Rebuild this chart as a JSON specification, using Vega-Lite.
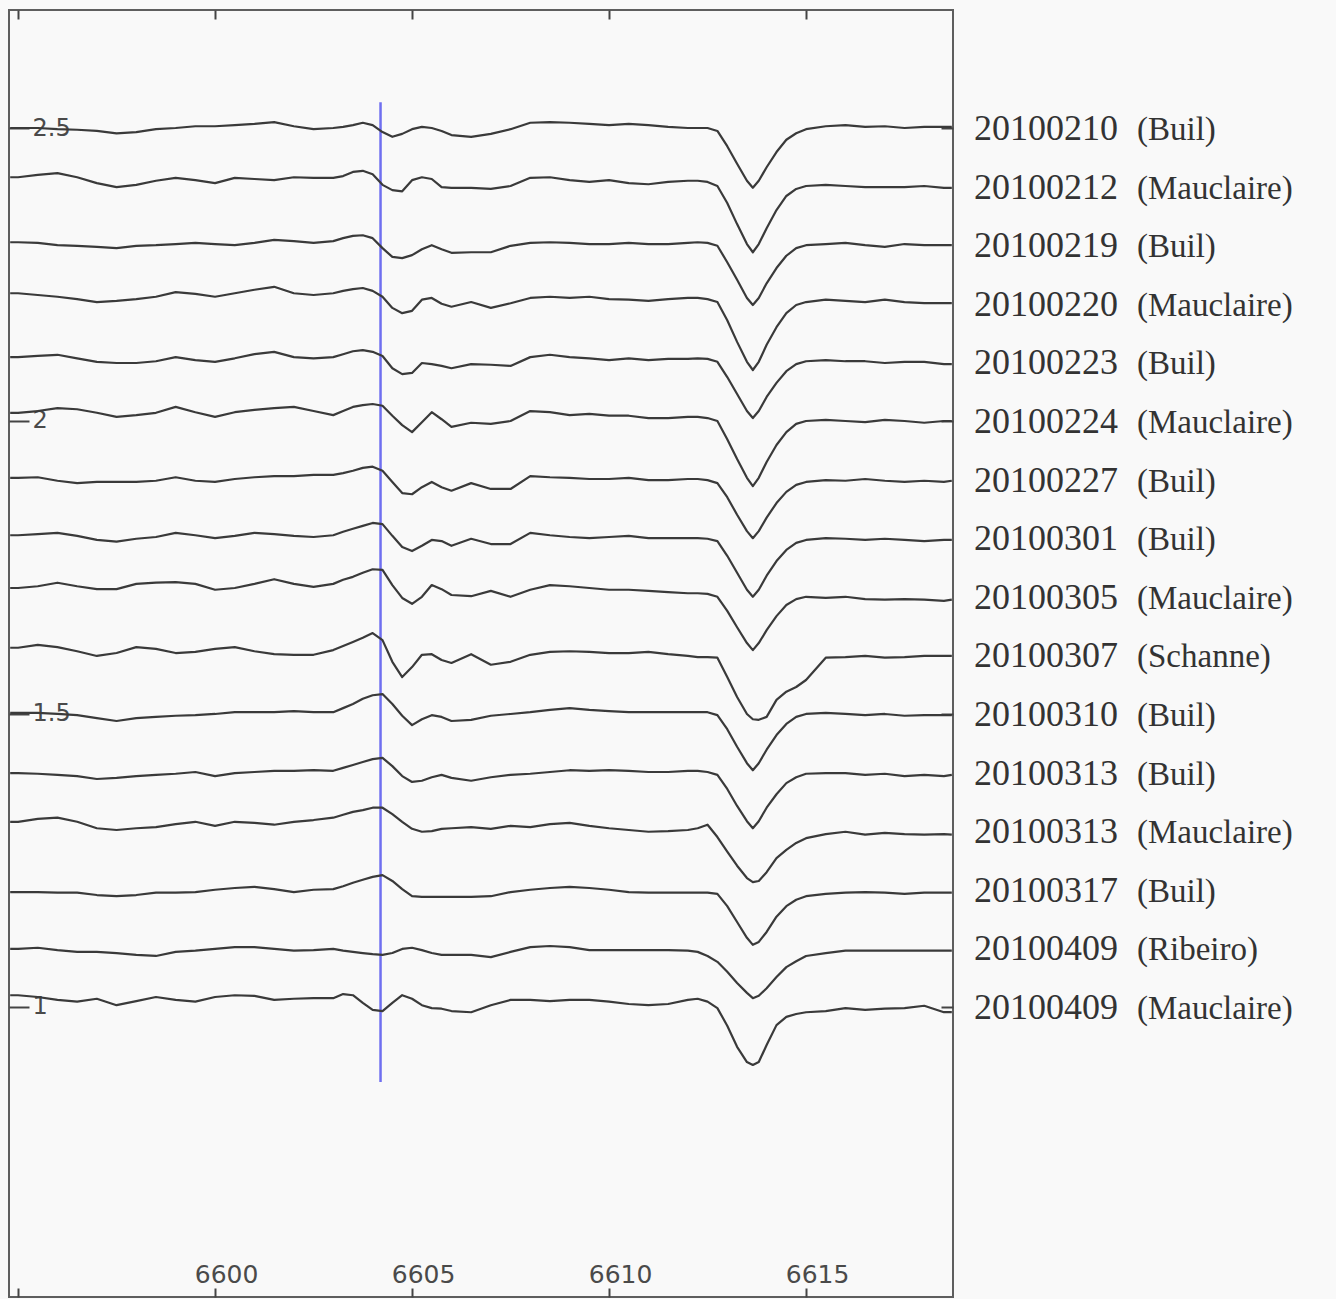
{
  "$schema": "https://vega.github.io/schema/vega-lite/v6.json",
  "width": 944,
  "height": 1287,
  "autosize": {"type": "none"},
  "padding": {"left": 9, "top": 10, "right": 383, "bottom": 2},
  "background": "#f9f9f9",
  "config": {
    "view": {"stroke": "#5e5e5e", "strokeWidth": 2, "fill": "#f9f9f9"},
    "axis": {"grid": false, "domain": false, "title": null, "tickColor": "#444444", "tickWidth": 2, "labelColor": "#4a4a4a", "labelFont": "DejaVu Sans"}
  },
  "datasets": {
    "spectra": [
      {"w":6594.8,"a":2.500,"b":2.416,"c":2.305,"d":2.218,"e":2.109,"f":2.014,"g":1.903,"h":1.805,"i":1.715,"j":1.613,"k":1.502,"l":1.399,"m":1.316,"n":1.196,"o":1.099,"p":1.020},
      {"w":6595.0,"a":2.500,"b":2.416,"c":2.305,"d":2.218,"e":2.109,"f":2.014,"g":1.903,"h":1.805,"i":1.715,"j":1.613,"k":1.502,"l":1.399,"m":1.316,"n":1.196,"o":1.099,"p":1.020},
      {"w":6595.5,"a":2.500,"b":2.420,"c":2.304,"d":2.215,"e":2.111,"f":2.017,"g":1.904,"h":1.807,"i":1.718,"j":1.618,"k":1.502,"l":1.398,"m":1.321,"n":1.196,"o":1.101,"p":1.017},
      {"w":6596.0,"a":2.498,"b":2.423,"c":2.300,"d":2.212,"e":2.113,"f":2.022,"g":1.898,"h":1.809,"i":1.724,"j":1.614,"k":1.500,"l":1.396,"m":1.323,"n":1.195,"o":1.097,"p":1.012},
      {"w":6596.5,"a":2.497,"b":2.416,"c":2.299,"d":2.208,"e":2.107,"f":2.020,"g":1.894,"h":1.804,"i":1.718,"j":1.607,"k":1.498,"l":1.394,"m":1.316,"n":1.195,"o":1.094,"p":1.009},
      {"w":6597.0,"a":2.495,"b":2.406,"c":2.297,"d":2.203,"e":2.101,"f":2.014,"g":1.896,"h":1.797,"i":1.713,"j":1.599,"k":1.493,"l":1.389,"m":1.305,"n":1.191,"o":1.094,"p":1.014},
      {"w":6597.5,"a":2.491,"b":2.399,"c":2.295,"d":2.205,"e":2.099,"f":2.007,"g":1.896,"h":1.794,"i":1.713,"j":1.604,"k":1.488,"l":1.391,"m":1.302,"n":1.189,"o":1.092,"p":1.003},
      {"w":6598.0,"a":2.493,"b":2.403,"c":2.299,"d":2.208,"e":2.099,"f":2.010,"g":1.896,"h":1.799,"i":1.722,"j":1.614,"k":1.493,"l":1.394,"m":1.305,"n":1.191,"o":1.089,"p":1.010},
      {"w":6598.5,"a":2.498,"b":2.410,"c":2.300,"d":2.212,"e":2.102,"f":2.014,"g":1.898,"h":1.802,"i":1.724,"j":1.611,"k":1.495,"l":1.396,"m":1.307,"n":1.195,"o":1.087,"p":1.017},
      {"w":6599.0,"a":2.500,"b":2.415,"c":2.302,"d":2.220,"e":2.109,"f":2.024,"g":1.904,"h":1.809,"i":1.725,"j":1.604,"k":1.497,"l":1.398,"m":1.312,"n":1.195,"o":1.094,"p":1.012},
      {"w":6599.5,"a":2.503,"b":2.411,"c":2.304,"d":2.217,"e":2.104,"f":2.015,"g":1.898,"h":1.805,"i":1.722,"j":1.606,"k":1.498,"l":1.401,"m":1.316,"n":1.196,"o":1.096,"p":1.009},
      {"w":6600.0,"a":2.503,"b":2.406,"c":2.302,"d":2.212,"e":2.101,"f":2.007,"g":1.896,"h":1.800,"i":1.712,"j":1.611,"k":1.500,"l":1.394,"m":1.309,"n":1.200,"o":1.099,"p":1.017},
      {"w":6600.5,"a":2.505,"b":2.415,"c":2.300,"d":2.218,"e":2.107,"f":2.015,"g":1.901,"h":1.804,"i":1.715,"j":1.614,"k":1.503,"l":1.399,"m":1.316,"n":1.203,"o":1.102,"p":1.020},
      {"w":6601.0,"a":2.507,"b":2.413,"c":2.304,"d":2.224,"e":2.114,"f":2.019,"g":1.904,"h":1.809,"i":1.722,"j":1.607,"k":1.503,"l":1.401,"m":1.314,"n":1.205,"o":1.102,"p":1.019},
      {"w":6601.5,"a":2.510,"b":2.411,"c":2.309,"d":2.229,"e":2.118,"f":2.022,"g":1.906,"h":1.807,"i":1.730,"j":1.602,"k":1.503,"l":1.403,"m":1.311,"n":1.201,"o":1.099,"p":1.012},
      {"w":6602.0,"a":2.503,"b":2.416,"c":2.307,"d":2.218,"e":2.109,"f":2.024,"g":1.906,"h":1.804,"i":1.722,"j":1.601,"k":1.505,"l":1.403,"m":1.316,"n":1.196,"o":1.096,"p":1.014},
      {"w":6602.5,"a":2.498,"b":2.415,"c":2.304,"d":2.215,"e":2.107,"f":2.017,"g":1.908,"h":1.802,"i":1.717,"j":1.601,"k":1.503,"l":1.404,"m":1.319,"n":1.200,"o":1.097,"p":1.015},
      {"w":6603.0,"a":2.500,"b":2.415,"c":2.307,"d":2.218,"e":2.109,"f":2.010,"g":1.908,"h":1.805,"i":1.722,"j":1.609,"k":1.503,"l":1.403,"m":1.323,"n":1.201,"o":1.099,"p":1.015},
      {"w":6603.25,"a":2.502,"b":2.418,"c":2.312,"d":2.222,"e":2.114,"f":2.017,"g":1.911,"h":1.811,"i":1.729,"j":1.616,"k":1.510,"l":1.408,"m":1.328,"n":1.206,"o":1.096,"p":1.022},
      {"w":6603.5,"a":2.505,"b":2.425,"c":2.316,"d":2.225,"e":2.119,"f":2.024,"g":1.915,"h":1.816,"i":1.734,"j":1.623,"k":1.517,"l":1.413,"m":1.333,"n":1.212,"o":1.094,"p":1.020},
      {"w":6603.75,"a":2.509,"b":2.427,"c":2.317,"d":2.227,"e":2.121,"f":2.027,"g":1.920,"h":1.821,"i":1.741,"j":1.630,"k":1.526,"l":1.418,"m":1.336,"n":1.217,"o":1.092,"p":1.007},
      {"w":6604.0,"a":2.505,"b":2.421,"c":2.312,"d":2.222,"e":2.118,"f":2.029,"g":1.922,"h":1.826,"i":1.747,"j":1.638,"k":1.532,"l":1.423,"m":1.340,"n":1.222,"o":1.090,"p":0.995},
      {"w":6604.25,"a":2.493,"b":2.403,"c":2.295,"d":2.212,"e":2.111,"f":2.026,"g":1.915,"h":1.824,"i":1.746,"j":1.626,"k":1.534,"l":1.425,"m":1.340,"n":1.225,"o":1.089,"p":0.993},
      {"w":6604.5,"a":2.485,"b":2.394,"c":2.280,"d":2.193,"e":2.090,"f":2.009,"g":1.896,"h":1.804,"i":1.720,"j":1.589,"k":1.517,"l":1.411,"m":1.329,"n":1.215,"o":1.092,"p":1.007},
      {"w":6604.75,"a":2.490,"b":2.392,"c":2.278,"d":2.184,"e":2.080,"f":1.993,"g":1.877,"h":1.785,"i":1.698,"j":1.563,"k":1.497,"l":1.394,"m":1.316,"n":1.201,"o":1.099,"p":1.020},
      {"w":6605.0,"a":2.498,"b":2.411,"c":2.283,"d":2.188,"e":2.082,"f":1.981,"g":1.875,"h":1.778,"i":1.688,"j":1.580,"k":1.481,"l":1.384,"m":1.304,"n":1.189,"o":1.101,"p":1.014},
      {"w":6605.25,"a":2.502,"b":2.416,"c":2.293,"d":2.207,"e":2.099,"f":1.998,"g":1.887,"h":1.787,"i":1.700,"j":1.601,"k":1.491,"l":1.386,"m":1.299,"n":1.188,"o":1.097,"p":1.003},
      {"w":6605.5,"a":2.500,"b":2.413,"c":2.300,"d":2.210,"e":2.097,"f":2.015,"g":1.896,"h":1.797,"i":1.720,"j":1.602,"k":1.498,"l":1.392,"m":1.300,"n":1.188,"o":1.092,"p":0.998},
      {"w":6605.75,"a":2.495,"b":2.399,"c":2.293,"d":2.200,"e":2.094,"f":2.003,"g":1.887,"h":1.795,"i":1.713,"j":1.592,"k":1.495,"l":1.396,"m":1.304,"n":1.188,"o":1.089,"p":0.997},
      {"w":6606.0,"a":2.488,"b":2.398,"c":2.287,"d":2.195,"e":2.090,"f":1.990,"g":1.881,"h":1.787,"i":1.703,"j":1.587,"k":1.488,"l":1.391,"m":1.305,"n":1.188,"o":1.089,"p":0.993},
      {"w":6606.5,"a":2.485,"b":2.398,"c":2.288,"d":2.203,"e":2.097,"f":1.997,"g":1.894,"h":1.799,"i":1.701,"j":1.602,"k":1.490,"l":1.386,"m":1.307,"n":1.188,"o":1.089,"p":0.991},
      {"w":6607.0,"a":2.490,"b":2.396,"c":2.288,"d":2.193,"e":2.096,"f":1.995,"g":1.884,"h":1.790,"i":1.710,"j":1.584,"k":1.497,"l":1.392,"m":1.304,"n":1.189,"o":1.085,"p":1.003},
      {"w":6607.5,"a":2.498,"b":2.401,"c":2.299,"d":2.201,"e":2.094,"f":2.000,"g":1.884,"h":1.790,"i":1.700,"j":1.589,"k":1.500,"l":1.396,"m":1.309,"n":1.196,"o":1.094,"p":1.012},
      {"w":6608.0,"a":2.509,"b":2.415,"c":2.304,"d":2.210,"e":2.109,"f":2.017,"g":1.906,"h":1.809,"i":1.712,"j":1.601,"k":1.503,"l":1.398,"m":1.307,"n":1.200,"o":1.102,"p":1.012},
      {"w":6608.5,"a":2.510,"b":2.416,"c":2.305,"d":2.212,"e":2.113,"f":2.015,"g":1.904,"h":1.805,"i":1.720,"j":1.606,"k":1.507,"l":1.401,"m":1.312,"n":1.203,"o":1.104,"p":1.010},
      {"w":6609.0,"a":2.509,"b":2.411,"c":2.304,"d":2.210,"e":2.109,"f":2.010,"g":1.903,"h":1.802,"i":1.718,"j":1.607,"k":1.510,"l":1.404,"m":1.314,"n":1.205,"o":1.102,"p":1.012},
      {"w":6609.5,"a":2.507,"b":2.408,"c":2.302,"d":2.212,"e":2.107,"f":2.012,"g":1.901,"h":1.800,"i":1.715,"j":1.606,"k":1.507,"l":1.403,"m":1.309,"n":1.203,"o":1.097,"p":1.012},
      {"w":6610.0,"a":2.505,"b":2.411,"c":2.302,"d":2.208,"e":2.104,"f":2.009,"g":1.901,"h":1.802,"i":1.712,"j":1.604,"k":1.505,"l":1.404,"m":1.305,"n":1.200,"o":1.097,"p":1.009},
      {"w":6610.5,"a":2.507,"b":2.406,"c":2.304,"d":2.207,"e":2.107,"f":2.009,"g":1.903,"h":1.804,"i":1.712,"j":1.604,"k":1.503,"l":1.403,"m":1.302,"n":1.196,"o":1.097,"p":1.005},
      {"w":6611.0,"a":2.505,"b":2.404,"c":2.302,"d":2.205,"e":2.104,"f":2.005,"g":1.899,"h":1.800,"i":1.710,"j":1.606,"k":1.503,"l":1.401,"m":1.299,"n":1.195,"o":1.097,"p":1.003},
      {"w":6611.5,"a":2.502,"b":2.408,"c":2.302,"d":2.208,"e":2.106,"f":2.005,"g":1.899,"h":1.800,"i":1.708,"j":1.602,"k":1.503,"l":1.401,"m":1.300,"n":1.195,"o":1.097,"p":1.005},
      {"w":6612.0,"a":2.500,"b":2.410,"c":2.304,"d":2.210,"e":2.106,"f":2.007,"g":1.901,"h":1.800,"i":1.706,"j":1.599,"k":1.503,"l":1.403,"m":1.302,"n":1.195,"o":1.096,"p":1.012},
      {"w":6612.25,"a":2.500,"b":2.410,"c":2.305,"d":2.210,"e":2.107,"f":2.007,"g":1.901,"h":1.800,"i":1.706,"j":1.597,"k":1.503,"l":1.403,"m":1.305,"n":1.195,"o":1.094,"p":1.014},
      {"w":6612.5,"a":2.500,"b":2.408,"c":2.304,"d":2.208,"e":2.106,"f":2.005,"g":1.899,"h":1.799,"i":1.705,"j":1.597,"k":1.503,"l":1.401,"m":1.311,"n":1.195,"o":1.087,"p":1.009},
      {"w":6612.75,"a":2.495,"b":2.401,"c":2.299,"d":2.203,"e":2.101,"f":2.000,"g":1.894,"h":1.795,"i":1.700,"j":1.596,"k":1.498,"l":1.396,"m":1.290,"n":1.193,"o":1.077,"p":0.998},
      {"w":6613.0,"a":2.469,"b":2.372,"c":2.271,"d":2.172,"e":2.075,"f":1.969,"g":1.870,"h":1.770,"i":1.676,"j":1.563,"k":1.474,"l":1.372,"m":1.265,"n":1.172,"o":1.060,"p":0.968},
      {"w":6613.25,"a":2.439,"b":2.336,"c":2.241,"d":2.135,"e":2.046,"f":1.935,"g":1.840,"h":1.741,"i":1.648,"j":1.529,"k":1.444,"l":1.343,"m":1.241,"n":1.145,"o":1.041,"p":0.932},
      {"w":6613.5,"a":2.410,"b":2.302,"c":2.210,"d":2.101,"e":2.017,"f":1.903,"g":1.812,"h":1.712,"i":1.621,"j":1.500,"k":1.416,"l":1.317,"m":1.220,"n":1.118,"o":1.024,"p":0.906},
      {"w":6613.65,"a":2.398,"b":2.288,"c":2.198,"d":2.087,"e":2.005,"f":1.889,"g":1.800,"h":1.700,"i":1.609,"j":1.491,"k":1.404,"l":1.305,"m":1.213,"n":1.106,"o":1.015,"p":0.901},
      {"w":6613.8,"a":2.410,"b":2.302,"c":2.210,"d":2.101,"e":2.017,"f":1.903,"g":1.812,"h":1.712,"i":1.621,"j":1.490,"k":1.416,"l":1.317,"m":1.215,"n":1.111,"o":1.019,"p":0.906},
      {"w":6614.0,"a":2.433,"b":2.329,"c":2.235,"d":2.130,"e":2.041,"f":1.930,"g":1.835,"h":1.736,"i":1.643,"j":1.495,"k":1.439,"l":1.340,"m":1.230,"n":1.128,"o":1.032,"p":0.935},
      {"w":6614.25,"a":2.459,"b":2.360,"c":2.261,"d":2.160,"e":2.065,"f":1.959,"g":1.860,"h":1.761,"i":1.667,"j":1.524,"k":1.464,"l":1.363,"m":1.254,"n":1.154,"o":1.051,"p":0.969},
      {"w":6614.5,"a":2.480,"b":2.384,"c":2.282,"d":2.184,"e":2.085,"f":1.981,"g":1.879,"h":1.780,"i":1.686,"j":1.538,"k":1.483,"l":1.382,"m":1.268,"n":1.172,"o":1.068,"p":0.983},
      {"w":6614.75,"a":2.491,"b":2.396,"c":2.295,"d":2.198,"e":2.097,"f":1.995,"g":1.891,"h":1.792,"i":1.696,"j":1.546,"k":1.495,"l":1.392,"m":1.280,"n":1.183,"o":1.078,"p":0.988},
      {"w":6615.0,"a":2.498,"b":2.401,"c":2.300,"d":2.203,"e":2.102,"f":2.000,"g":1.896,"h":1.797,"i":1.700,"j":1.558,"k":1.500,"l":1.398,"m":1.288,"n":1.189,"o":1.087,"p":0.991},
      {"w":6615.5,"a":2.503,"b":2.403,"c":2.302,"d":2.207,"e":2.104,"f":2.002,"g":1.899,"h":1.800,"i":1.698,"j":1.596,"k":1.502,"l":1.399,"m":1.295,"n":1.193,"o":1.092,"p":0.993},
      {"w":6616.0,"a":2.505,"b":2.401,"c":2.304,"d":2.205,"e":2.102,"f":2.000,"g":1.898,"h":1.799,"i":1.700,"j":1.597,"k":1.500,"l":1.399,"m":1.299,"n":1.195,"o":1.096,"p":0.998},
      {"w":6616.5,"a":2.502,"b":2.399,"c":2.300,"d":2.203,"e":2.102,"f":1.998,"g":1.901,"h":1.797,"i":1.696,"j":1.599,"k":1.498,"l":1.396,"m":1.294,"n":1.196,"o":1.096,"p":0.995},
      {"w":6617.0,"a":2.503,"b":2.399,"c":2.297,"d":2.207,"e":2.099,"f":2.002,"g":1.898,"h":1.799,"i":1.695,"j":1.596,"k":1.500,"l":1.398,"m":1.297,"n":1.195,"o":1.096,"p":0.997},
      {"w":6617.5,"a":2.500,"b":2.399,"c":2.302,"d":2.203,"e":2.101,"f":2.000,"g":1.896,"h":1.797,"i":1.696,"j":1.597,"k":1.497,"l":1.394,"m":1.295,"n":1.193,"o":1.096,"p":0.998},
      {"w":6618.0,"a":2.502,"b":2.401,"c":2.300,"d":2.201,"e":2.101,"f":1.997,"g":1.898,"h":1.795,"i":1.695,"j":1.599,"k":1.498,"l":1.396,"m":1.294,"n":1.195,"o":1.096,"p":1.002},
      {"w":6618.5,"a":2.502,"b":2.398,"c":2.300,"d":2.201,"e":2.097,"f":2.000,"g":1.896,"h":1.797,"i":1.693,"j":1.599,"k":1.498,"l":1.394,"m":1.295,"n":1.195,"o":1.096,"p":0.991},
      {"w":6618.7,"a":2.502,"b":2.398,"c":2.300,"d":2.201,"e":2.097,"f":2.000,"g":1.898,"h":1.797,"i":1.695,"j":1.599,"k":1.498,"l":1.396,"m":1.294,"n":1.195,"o":1.096,"p":0.991}
    ],
    "labels": [
      {"key":"a","date":"20100210","obs":"(Buil)","y":2.5},
      {"key":"b","date":"20100212","obs":"(Mauclaire)","y":2.4},
      {"key":"c","date":"20100219","obs":"(Buil)","y":2.3},
      {"key":"d","date":"20100220","obs":"(Mauclaire)","y":2.2},
      {"key":"e","date":"20100223","obs":"(Buil)","y":2.1},
      {"key":"f","date":"20100224","obs":"(Mauclaire)","y":2.0},
      {"key":"g","date":"20100227","obs":"(Buil)","y":1.9},
      {"key":"h","date":"20100301","obs":"(Buil)","y":1.8},
      {"key":"i","date":"20100305","obs":"(Mauclaire)","y":1.7},
      {"key":"j","date":"20100307","obs":"(Schanne)","y":1.6},
      {"key":"k","date":"20100310","obs":"(Buil)","y":1.5},
      {"key":"l","date":"20100313","obs":"(Buil)","y":1.4},
      {"key":"m","date":"20100313","obs":"(Mauclaire)","y":1.3},
      {"key":"n","date":"20100317","obs":"(Buil)","y":1.2},
      {"key":"o","date":"20100409","obs":"(Ribeiro)","y":1.1},
      {"key":"p","date":"20100409","obs":"(Mauclaire)","y":1.0}
    ],
    "marker": [
      {"w":6604.2,"top":2.544,"bottom":0.872}
    ]
  },
  "layer": [
    {
      "data": {"name": "marker"},
      "mark": {"type": "rule", "color": "#6f6ff0", "strokeWidth": 2.5},
      "encoding": {
        "x": {
          "field": "w", "type": "quantitative",
          "scale": {"domain": [6594.77, 6618.73], "nice": false, "zero": false},
          "axis": {"orient": "bottom", "values": [6595, 6600, 6605, 6610, 6615], "format": "d",
                   "labelExpr": "datum.value == 6595 ? '' : datum.label",
                   "tickSize": -9, "labelPadding": -14, "labelOffset": 11, "labelBaseline": "middle",
                   "labelFontSize": 25, "labelFlush": false, "labelOverlap": false}
        },
        "y": {
          "field": "top", "type": "quantitative",
          "scale": {"domain": [0.505, 2.7014], "nice": false, "zero": false},
          "axis": {"orient": "left", "values": [1, 1.5, 2, 2.5], "format": "~g",
                   "tickSize": -20, "labelPadding": -3, "labelAlign": "left", "labelBaseline": "middle",
                   "labelFontSize": 24, "labelFlush": false, "labelOverlap": false}
        },
        "y2": {"field": "bottom"}
      }
    },
    {
      "data": {"name": "spectra"},
      "transform": [
        {"fold": ["a","b","c","d","e","f","g","h","i","j","k","l","m","n","o","p"], "as": ["key", "flux"]}
      ],
      "mark": {"type": "line", "color": "#3a3a3a", "strokeWidth": 2.2, "strokeJoin": "round"},
      "encoding": {
        "x": {
          "field": "w", "type": "quantitative",
          "scale": {"domain": [6594.77, 6618.73], "nice": false, "zero": false},
          "axis": {"orient": "top", "values": [6595, 6600, 6605, 6610, 6615], "labels": false, "tickSize": -9}
        },
        "y": {
          "field": "flux", "type": "quantitative",
          "scale": {"domain": [0.505, 2.7014], "nice": false, "zero": false},
          "axis": {"orient": "right", "values": [1, 1.5, 2, 2.5], "labels": false, "tickSize": -12}
        },
        "detail": {"field": "key", "type": "nominal"}
      }
    },
    {
      "data": {"name": "labels"},
      "mark": {"type": "text", "font": "Liberation Serif", "fontSize": 36, "align": "left", "baseline": "alphabetic", "dy": 12, "color": "#333333"},
      "encoding": {
        "x": {"datum": 6619.26, "type": "quantitative", "scale": {"domain": [6594.77, 6618.73], "nice": false, "zero": false}, "axis": null},
        "y": {"field": "y", "type": "quantitative", "scale": {"domain": [0.505, 2.7014], "nice": false, "zero": false}, "axis": null},
        "text": {"field": "date"}
      }
    },
    {
      "data": {"name": "labels"},
      "mark": {"type": "text", "font": "Liberation Serif", "fontSize": 33, "align": "left", "baseline": "alphabetic", "dy": 12, "color": "#333333"},
      "encoding": {
        "x": {"datum": 6623.4, "type": "quantitative", "scale": {"domain": [6594.77, 6618.73], "nice": false, "zero": false}, "axis": null},
        "y": {"field": "y", "type": "quantitative", "scale": {"domain": [0.505, 2.7014], "nice": false, "zero": false}, "axis": null},
        "text": {"field": "obs"}
      }
    }
  ],
  "resolve": {"axis": {"x": "independent", "y": "independent"}}
}
